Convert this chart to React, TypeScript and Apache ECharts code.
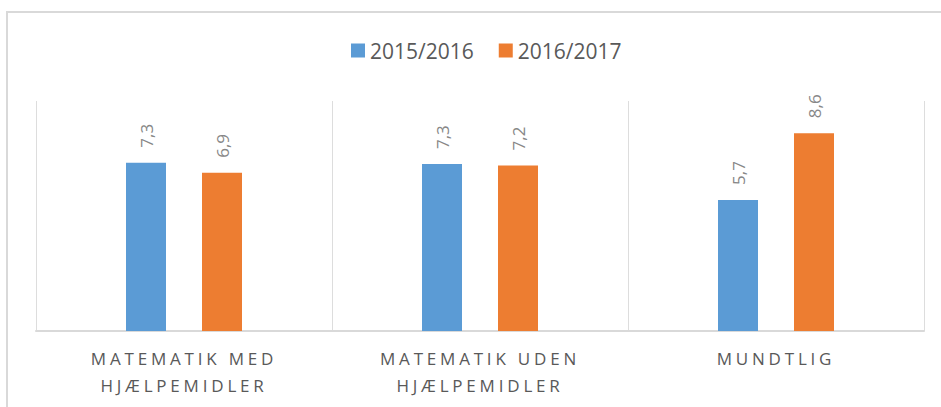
import React, { useEffect, useRef } from "react";
import * as echarts from "echarts";

const categories = ["MATEMATIK MED\nHJÆLPEMIDLER", "MATEMATIK UDEN\nHJÆLPEMIDLER", "MUNDTLIG"];
const seriesNames = ["2015/2016", "2016/2017"];
const values2015 = [7.32, 7.26, 5.7];
const values2016 = [6.88, 7.2, 8.6];
const colors = ["#5B9BD5", "#ED7D31"];

const fmt = (v: number) => v.toFixed(1).replace(".", ",");

export default function App() {
  const ref = useRef<HTMLDivElement>(null);
  useEffect(() => {
    if (!ref.current) return;
    const chart = echarts.init(ref.current, undefined, { renderer: "svg" });
    const label = {
      show: true,
      position: "top" as const,
      rotate: 90,
      align: "left" as const,
      verticalAlign: "middle" as const,
      distance: 15,
      fontFamily: "Open Sans",
      fontSize: 17,
      color: "#878787",
      formatter: (p: any) => fmt(p.value),
    };
    chart.setOption({
      animation: false,
      backgroundColor: "#FFFFFF",
      color: colors,
      graphic: [
        {
          type: "rect",
          shape: { x: 7, y: 12, width: 1200, height: 800 },
          style: { fill: "none", stroke: "#D9D9D9", lineWidth: 2 },
          silent: true,
          z: -1,
        },
      ],
      legend: {
        left: 346,
        top: 35,
        itemWidth: 14,
        itemHeight: 14,
        itemGap: 25,
        icon: "rect",
        textStyle: { fontFamily: "Open Sans", fontSize: 21, color: "#595959" },
        data: seriesNames,
      },
      grid: { left: 36, right: 17, top: 101, bottom: 76, containLabel: false },
      xAxis: {
        type: "category",
        data: categories,
        axisLine: { show: true, lineStyle: { color: "#D9D9D9", width: 2 } },
        axisTick: { show: false },
        splitLine: { show: true, lineStyle: { color: "#DDDDDD", width: 1 } },
        axisLabel: {
          interval: 0,
          margin: 14,
          fontFamily: "Open Sans",
          fontSize: 17,
          lineHeight: 27,
          color: "#595959",
        },
      },
      yAxis: {
        type: "value",
        min: 0,
        max: 10,
        show: false,
        splitLine: { show: false },
      },
      series: [
        {
          name: seriesNames[0],
          type: "bar",
          data: values2015,
          barWidth: 40,
          barGap: "90%",
          itemStyle: { color: colors[0] },
          label,
        },
        {
          name: seriesNames[1],
          type: "bar",
          data: values2016,
          barWidth: 40,
          barGap: "90%",
          itemStyle: { color: colors[1] },
          label,
        },
      ],
    });
    const lines = new Set(categories.flatMap((c) => c.split("\n")));
    ref.current.querySelectorAll("text").forEach((t) => {
      if (lines.has((t.textContent || "").trim())) {
        t.setAttribute("letter-spacing", "3.8");
      }
    });
    return () => chart.dispose();
  }, []);
  return (
    <div
      ref={ref}
      style={{ position: "fixed", left: 0, top: 0, width: 941, height: 407 }}
    />
  );
}
